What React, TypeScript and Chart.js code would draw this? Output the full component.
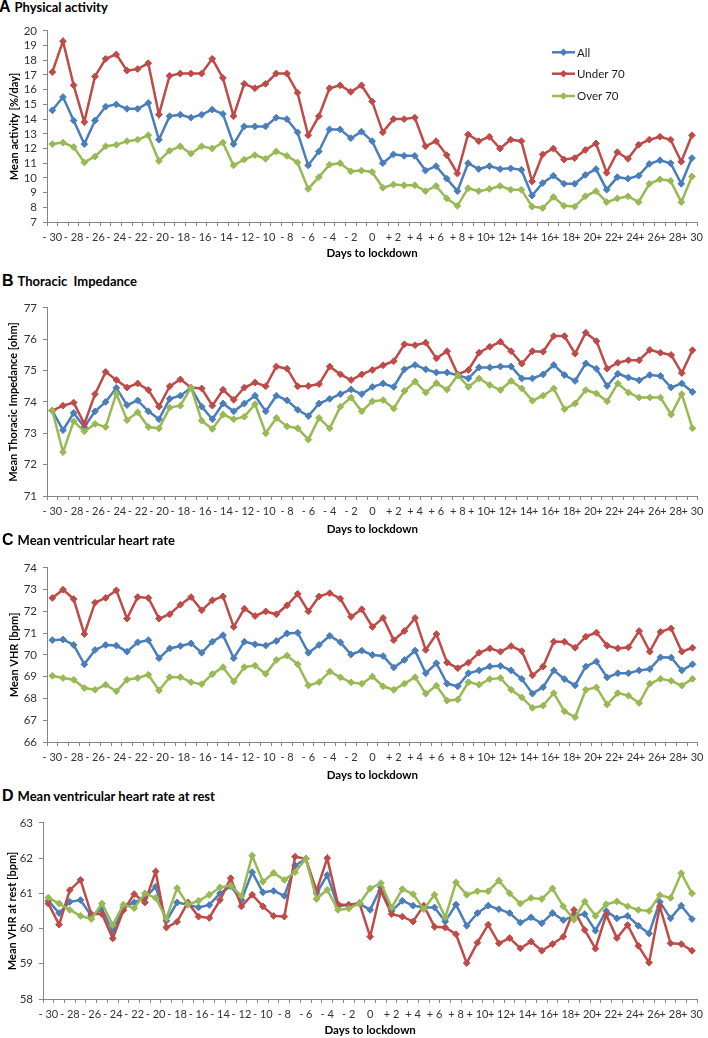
import React, { useEffect, useRef } from "react";
import { Chart, registerables } from "chart.js";
Chart.register(...registerables);

const days = [
  "- 30", "- 29", "- 28", "- 27", "- 26", "- 25", "- 24", "- 23", "- 22", "- 21",
  "- 20", "- 19", "- 18", "- 17", "- 16", "- 15", "- 14", "- 13", "- 12", "- 11",
  "- 10", "- 9", "- 8", "- 7", "- 6", "- 5", "- 4", "- 3", "- 2", "- 1", "0",
  "+ 1", "+ 2", "+ 3", "+ 4", "+ 5", "+ 6", "+ 7", "+ 8", "+ 9", "+ 10",
  "+ 11", "+ 12", "+ 13", "+ 14", "+ 15", "+ 16", "+ 17", "+ 18", "+ 19", "+ 20",
  "+ 21", "+ 22", "+ 23", "+ 24", "+ 25", "+ 26", "+ 27", "+ 28", "+ 29", "+ 30",
];

const seriesNames = ["All", "Under 70", "Over 70"];
const seriesColors = ["#4A7EBB", "#BE4B48", "#98B954"];

// A: Physical activity
const activityAll = [
  14.6, 15.5, 13.9, 12.3, 13.9, 14.85, 15.0, 14.7, 14.7, 15.1, 12.6, 14.2, 14.3, 14.1, 14.3, 14.65,
  14.35, 12.3, 13.5, 13.5, 13.5, 14.1, 14.0, 13.1, 10.85, 11.8, 13.3, 13.3, 12.7, 13.15, 12.5,
  11.0, 11.6, 11.5, 11.5, 10.5, 10.8, 9.95, 9.1, 11.0, 10.6, 10.8, 10.6, 10.65, 10.55, 8.8,
  9.65, 10.15, 9.6, 9.6, 10.2, 10.6, 9.2, 10.05, 9.95, 10.15, 10.95, 11.2, 11.0, 9.6, 11.35,
];
const activityUnder70 = [
  17.2, 19.3, 16.3, 13.8, 16.9, 18.1, 18.4, 17.3, 17.4, 17.8, 14.3, 16.95, 17.1, 17.1, 17.1, 18.1,
  16.8, 14.2, 16.4, 16.1, 16.4, 17.1, 17.1, 15.8, 12.9, 14.2, 16.1, 16.3, 15.85, 16.3, 15.2,
  13.1, 14.0, 14.0, 14.1, 12.15, 12.5, 11.55, 10.3, 12.95, 12.5, 12.8, 12.0, 12.6, 12.5, 9.76,
  11.6, 12.0, 11.25, 11.35, 11.9, 12.35, 10.35, 11.75, 11.3, 12.25, 12.6, 12.8, 12.6, 11.1, 12.9,
];
const activityOver70 = [
  12.3, 12.4, 12.1, 11.05, 11.45, 12.15, 12.25, 12.5, 12.6, 12.9, 11.15, 11.85, 12.15, 11.65, 12.15, 12.0,
  12.4, 10.85, 11.25, 11.55, 11.3, 11.8, 11.5, 11.05, 9.25, 10.05, 10.9, 11.0, 10.45, 10.5, 10.4,
  9.33, 9.55, 9.5, 9.5, 9.1, 9.45, 8.6, 8.1, 9.3, 9.1, 9.25, 9.45, 9.2, 9.2, 8.05,
  7.95, 8.7, 8.1, 8.05, 8.75, 9.1, 8.35, 8.6, 8.75, 8.35, 9.6, 9.9, 9.8, 8.35, 10.1,
];

// B: Thoracic impedance
const impedanceAll = [
  73.72, 73.1, 73.65, 73.2, 73.7, 74.0, 74.45, 73.9, 74.05, 73.7, 73.45, 74.1, 74.2, 74.45, 73.85, 73.45,
  73.95, 73.7, 73.95, 74.2, 73.7, 74.2, 74.05, 73.75, 73.55, 73.95, 74.1, 74.25, 74.4, 74.25, 74.48,
  74.59, 74.48, 75.04, 75.18, 75.04, 74.94, 74.94, 74.85, 74.75, 75.1, 75.1, 75.13, 75.13, 74.75, 74.75,
  74.88, 75.18, 74.86, 74.67, 75.23, 75.06, 74.51, 74.9, 74.78, 74.69, 74.86, 74.83, 74.46, 74.59, 74.32,
];
const impedanceUnder70 = [
  73.72, 73.88, 73.98, 73.3, 74.25, 74.96, 74.7, 74.46, 74.59, 74.38, 73.85, 74.5, 74.72, 74.46, 74.43, 73.88,
  74.39, 74.07, 74.46, 74.62, 74.5, 75.13, 75.06, 74.5, 74.51, 74.57, 75.13, 74.88, 74.7, 74.88, 75.02,
  75.17, 75.3, 75.84, 75.81, 75.89, 75.39, 75.62, 74.88, 75.02, 75.57, 75.76, 75.92, 75.62, 75.22, 75.62,
  75.6, 76.1, 76.1, 75.54, 76.21, 75.94, 75.06, 75.25, 75.33, 75.33, 75.66, 75.57, 75.5, 74.92, 75.65,
];
const impedanceOver70 = [
  73.72, 72.4, 73.38, 73.06, 73.3, 73.2, 74.27, 73.42, 73.67, 73.2, 73.16, 73.82, 73.88, 74.46, 73.4, 73.14,
  73.6, 73.45, 73.53, 73.93, 73.0, 73.49, 73.22, 73.16, 72.8, 73.49, 73.16, 73.85, 74.14, 73.7, 74.02,
  74.06, 73.79, 74.35, 74.65, 74.3, 74.6, 74.39, 74.85, 74.48, 74.75, 74.54, 74.38, 74.67, 74.43, 74.04,
  74.2, 74.43, 73.77, 73.95, 74.38, 74.27, 74.02, 74.59, 74.3, 74.14, 74.14, 74.14, 73.6, 74.25, 73.16,
];

// C: Mean ventricular heart rate
const vhrAll = [
  70.68, 70.71, 70.46, 69.57, 70.23, 70.46, 70.43, 70.15, 70.58, 70.68, 69.85, 70.3, 70.41, 70.53, 70.1, 70.61,
  70.91, 69.85, 70.61, 70.49, 70.43, 70.64, 70.99, 71.02, 70.1, 70.46, 70.88, 70.58, 70.02, 70.2, 70.0,
  69.95, 69.42, 69.77, 70.2, 69.16, 69.62, 68.68, 68.56, 69.16, 69.29, 69.47, 69.5, 69.29, 68.9, 68.22,
  68.52, 69.29, 68.89, 68.6, 69.47, 69.7, 68.97, 69.16, 69.16, 69.29, 69.35, 69.89, 69.88, 69.29, 69.57,
];
const vhrUnder70 = [
  72.62, 73.0, 72.57, 70.96, 72.4, 72.62, 72.97, 71.67, 72.66, 72.62, 71.67, 71.87, 72.31, 72.66, 72.05, 72.51,
  72.69, 71.29, 72.13, 71.79, 72.0, 71.87, 72.28, 72.81, 72.0, 72.69, 72.84, 72.59, 71.75, 72.1, 71.29,
  71.7, 70.68, 71.1, 71.7, 70.23, 70.96, 69.65, 69.39, 69.65, 70.1, 70.3, 70.15, 70.41, 70.18, 69.06,
  69.47, 70.61, 70.61, 70.33, 70.84, 71.03, 70.43, 70.3, 70.35, 71.1, 70.15, 71.06, 71.22, 70.15, 70.33,
];
const vhrOver70 = [
  69.04, 68.94, 68.86, 68.48, 68.4, 68.63, 68.33, 68.86, 68.94, 69.09, 68.37, 68.98, 68.98, 68.75, 68.66, 69.12,
  69.44, 68.78, 69.44, 69.51, 69.13, 69.77, 69.97, 69.57, 68.6, 68.75, 69.24, 68.97, 68.74, 68.68, 69.01,
  68.56, 68.4, 68.68, 68.98, 68.22, 68.59, 67.9, 67.95, 68.75, 68.63, 68.89, 68.94, 68.4, 68.05, 67.57,
  67.67, 68.25, 67.41, 67.14, 68.4, 68.51, 67.72, 68.25, 68.13, 67.79, 68.68, 68.9, 68.81, 68.59, 68.9,
];

// D: Mean ventricular heart rate at rest
const restAll = [
  60.79, 60.44, 60.76, 60.81, 60.36, 60.55, 59.91, 60.6, 60.74, 60.87, 61.19, 60.22, 60.74, 60.68, 60.6, 60.67,
  61.0, 61.2, 60.81, 61.6, 61.03, 61.07, 60.93, 61.79, 61.98, 61.0, 61.52, 60.63, 60.68, 60.71, 60.53,
  61.17, 60.5, 60.79, 60.65, 60.6, 60.6, 60.2, 60.68, 60.08, 60.44, 60.65, 60.55, 60.44, 60.17, 60.32,
  60.15, 60.44, 60.24, 60.36, 60.41, 59.94, 60.5, 60.29, 60.36, 60.08, 59.86, 60.76, 60.29, 60.65, 60.27,
];
const restUnder70 = [
  60.71, 60.11, 61.09, 61.38, 60.41, 60.41, 59.72, 60.52, 60.98, 60.74, 61.62, 60.03, 60.19, 60.74, 60.34, 60.3,
  60.81, 61.43, 60.63, 60.96, 60.63, 60.36, 60.34, 62.04, 61.98, 61.07, 62.0, 60.69, 60.66, 60.72, 59.77,
  61.07, 60.41, 60.34, 60.2, 60.65, 60.05, 60.03, 59.84, 59.02, 59.6, 60.11, 59.58, 59.73, 59.44, 59.63,
  59.37, 59.56, 59.77, 60.53, 59.96, 59.43, 60.39, 59.73, 60.1, 59.51, 59.03, 60.63, 59.58, 59.56, 59.37,
];
const restOver70 = [
  60.88, 60.71, 60.53, 60.36, 60.27, 60.71, 60.1, 60.68, 60.58, 61.0, 60.87, 60.29, 61.15, 60.68, 60.79, 60.96,
  61.17, 61.22, 60.93, 62.07, 61.33, 61.58, 61.38, 61.6, 61.98, 60.84, 61.1, 60.53, 60.57, 60.71, 61.14,
  61.29, 60.6, 61.12, 60.98, 60.55, 60.96, 60.32, 61.31, 60.96, 61.06, 61.06, 61.36, 61.0, 60.71, 60.87,
  60.84, 61.14, 60.63, 60.25, 60.77, 60.36, 60.69, 60.77, 60.63, 60.53, 60.5, 60.95, 60.87, 61.57, 61.0,
];

const FONT = "Lato, 'Open Sans', 'DejaVu Sans', sans-serif";
const PAD_TOP = 12;
const XH = 42;
const W = 708;

type PanelProps = {
  letter: string;
  title: string;
  titleY: number;
  yTitle: string;
  yMin: number;
  yMax: number;
  top: number;
  bottom: number;
  left: number;
  right: number;
  tickPad: number;
  xTitlePad: number;
  yTitlePad: number;
  series: number[][];
  legend?: boolean;
};

const legendPlugin = {
  id: "excelLegend",
  afterDraw(chart: any, _args: any, opts: any) {
    if (!opts || !opts.show) return;
    const ctx = chart.ctx;
    ctx.save();
    const ys = opts.ys as number[];
    chart.data.datasets.forEach((ds: any, i: number) => {
      const y = ys[i];
      ctx.strokeStyle = ds.borderColor;
      ctx.lineWidth = 2.5;
      ctx.beginPath();
      ctx.moveTo(opts.x0, y);
      ctx.lineTo(opts.x1, y);
      ctx.stroke();
      const cx = (opts.x0 + opts.x1) / 2;
      ctx.fillStyle = ds.borderColor;
      ctx.beginPath();
      ctx.moveTo(cx, y - 3.8);
      ctx.lineTo(cx + 3.8, y);
      ctx.lineTo(cx, y + 3.8);
      ctx.lineTo(cx - 3.8, y);
      ctx.closePath();
      ctx.fill();
      ctx.fillStyle = "#1a1a1a";
      ctx.font = `11.5px ${FONT}`;
      ctx.textBaseline = "middle";
      ctx.textAlign = "left";
      ctx.fillText(ds.label, opts.x1 + 2, y + 0.5);
    });
    ctx.restore();
  },
};

function Panel(p: PanelProps) {
  const ref = useRef<HTMLCanvasElement>(null);
  const canvasTop = p.top - PAD_TOP;
  const canvasH = p.bottom - p.top + PAD_TOP + XH;

  useEffect(() => {
    if (!ref.current) return;
    const orders = [2, 1, 0];
    const chart = new Chart(ref.current, {
      type: "line",
      data: {
        labels: days,
        datasets: p.series.map((d, i) => ({
          label: seriesNames[i],
          data: d,
          borderColor: seriesColors[i],
          backgroundColor: seriesColors[i],
          borderWidth: 2.5,
          pointStyle: "rectRot",
          pointRadius: 3.4,
          pointBorderWidth: 1,
          pointBackgroundColor: seriesColors[i],
          pointBorderColor: seriesColors[i],
          tension: 0,
          fill: false,
          order: orders[i],
        })),
      },
      options: {
        animation: false,
        responsive: false,
        maintainAspectRatio: false,
        events: [],
        layout: { padding: { top: PAD_TOP, left: 0, right: W - p.right, bottom: 0 } },
        plugins: {
          legend: { display: false },
          tooltip: { enabled: false },
          excelLegend: p.legend
            ? { show: true, x0: 552, x1: 575, ys: [52.3 - canvasTop, 73.7 - canvasTop, 96 - canvasTop] }
            : { show: false },
        } as any,
        scales: {
          x: {
            type: "category",
            offset: true,
            afterFit: (s: any) => {
              s.height = XH;
            },
            grid: {
              display: true,
              offset: true,
              drawOnChartArea: false,
              drawTicks: true,
              tickLength: 4,
              color: "#868686",
            },
            border: { display: true, color: "#868686", width: 1 },
            ticks: {
              autoSkip: false,
              maxRotation: 0,
              minRotation: 0,
              padding: p.tickPad,
              color: "#333333",
              font: { family: FONT, size: 11, lineHeight: 1.2 },
              callback: function (this: any, value: any, index: number) {
                return index % 2 === 0 ? days[index] : "";
              },
            },
            title: {
              display: true,
              text: "Days to lockdown",
              color: "#000000",
              font: { family: FONT, size: 11.5, weight: "bold", lineHeight: 1.2 },
              padding: { top: 0, bottom: p.xTitlePad },
            },
          },
          y: {
            min: p.yMin,
            max: p.yMax,
            afterFit: (s: any) => {
              s.width = p.left;
            },
            grid: {
              display: true,
              drawOnChartArea: false,
              drawTicks: true,
              tickLength: 4,
              color: "#868686",
            },
            border: { display: true, color: "#868686", width: 1 },
            ticks: {
              stepSize: 1,
              autoSkip: false,
              padding: 6,
              color: "#333333",
              font: { family: FONT, size: 11.5 },
            },
            title: {
              display: true,
              text: p.yTitle,
              color: "#000000",
              font: { family: FONT, size: 11, weight: "bold", lineHeight: 1.2 },
              padding: { top: p.yTitlePad, bottom: 0 },
            },
          },
        },
      },
      plugins: [legendPlugin],
    } as any);
    return () => chart.destroy();
  }, []);

  return (
    <>
      <div
        style={{
          position: "absolute",
          left: 0,
          top: p.titleY - 10,
          height: 20,
          lineHeight: "20px",
          whiteSpace: "pre",
          color: "#000",
        }}
      >
        <span style={{ fontFamily: "'Liberation Sans', Arial, sans-serif", fontWeight: "bold", fontSize: 16, marginLeft: p.letter === "A" ? -1 : 2 }}>
          {p.letter}
        </span>
        <span style={{ fontFamily: FONT, fontWeight: "bold", fontSize: 13, marginLeft: 4 }}>{p.title}</span>
      </div>
      <canvas
        ref={ref}
        width={W}
        height={Math.round(canvasH)}
        style={{ position: "absolute", left: 0, top: canvasTop, width: W, height: Math.round(canvasH) }}
      />
    </>
  );
}

export default function App() {
  return (
    <div style={{ position: "absolute", left: 0, top: 0, width: W, height: 1038, background: "#fff", overflow: "hidden" }}>
      <Panel
        letter="A"
        title="Physical activity"
        titleY={7}
        yTitle="Mean activity [%/day]"
        yMin={7}
        yMax={20}
        top={30}
        bottom={222}
        left={47}
        right={698}
        tickPad={5}
        xTitlePad={4}
        yTitlePad={8}
        series={[activityAll, activityUnder70, activityOver70]}
        legend
      />
      <Panel
        letter="B"
        title={"Thoracic  Impedance"}
        titleY={281}
        yTitle="Mean Thoracic Impedance [ohm]"
        yMin={71}
        yMax={77}
        top={306.7}
        bottom={495.7}
        left={47}
        right={701}
        tickPad={4.5}
        xTitlePad={2}
        yTitlePad={6.5}
        series={[impedanceAll, impedanceUnder70, impedanceOver70]}
      />
      <Panel
        letter="C"
        title="Mean ventricular heart rate"
        titleY={540}
        yTitle="Mean VHR [bpm]"
        yMin={66}
        yMax={74}
        top={567.3}
        bottom={742.7}
        left={47}
        right={702}
        tickPad={4.5}
        xTitlePad={2}
        yTitlePad={8}
        series={[vhrAll, vhrUnder70, vhrOver70]}
      />
      <Panel
        letter="D"
        title="Mean ventricular heart rate at rest"
        titleY={796}
        yTitle="Mean VHR at rest [bpm]"
        yMin={58}
        yMax={63}
        top={822.3}
        bottom={999}
        left={43}
        right={703}
        tickPad={5}
        xTitlePad={4}
        yTitlePad={5.5}
        series={[restAll, restUnder70, restOver70]}
      />
    </div>
  );
}
